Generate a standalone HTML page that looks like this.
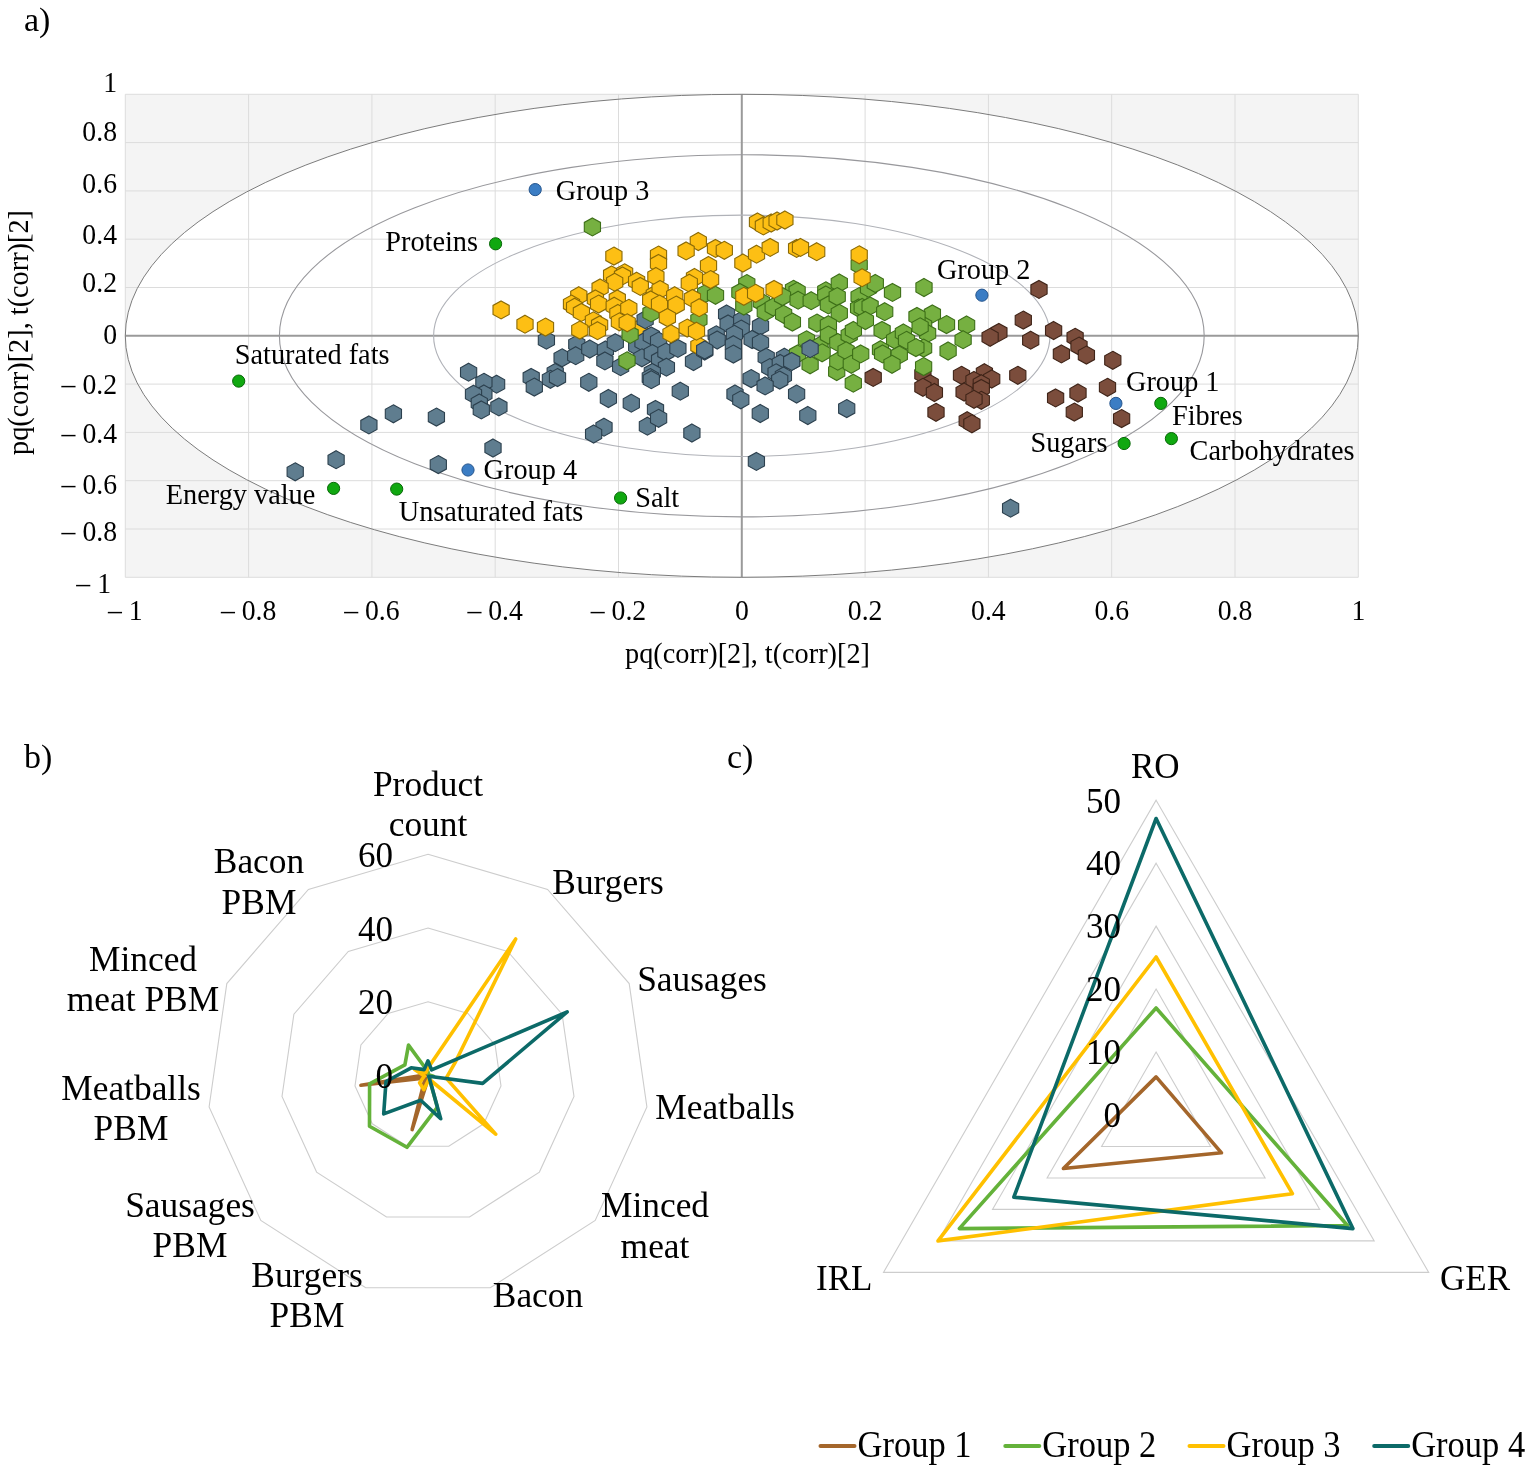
<!DOCTYPE html>
<html lang="en"><head><meta charset="utf-8"><title>Figure</title>
<style>html,body{margin:0;padding:0;background:#fff}body{width:1535px;height:1471px;overflow:hidden}svg{display:block}text{font-family:"Liberation Serif",serif;fill:#000}</style>
</head><body>
<svg width="1535" height="1471" viewBox="0 0 1535 1471">
<rect width="1535" height="1471" fill="#fff"/>
<g id="panel-a">
<rect x="125.3" y="94.3" width="1233.0" height="483.0" fill="#f4f4f4"/>
<ellipse cx="741.8" cy="335.8" rx="616.5" ry="241.5" fill="#fff"/>
<line x1="125.3" y1="94.3" x2="125.3" y2="577.3" stroke="#dcdcdc" stroke-width="1"/>
<line x1="125.3" y1="577.3" x2="1358.3" y2="577.3" stroke="#dcdcdc" stroke-width="1"/>
<line x1="248.6" y1="94.3" x2="248.6" y2="577.3" stroke="#dcdcdc" stroke-width="1"/>
<line x1="125.3" y1="529.0" x2="1358.3" y2="529.0" stroke="#dcdcdc" stroke-width="1"/>
<line x1="371.9" y1="94.3" x2="371.9" y2="577.3" stroke="#dcdcdc" stroke-width="1"/>
<line x1="125.3" y1="480.7" x2="1358.3" y2="480.7" stroke="#dcdcdc" stroke-width="1"/>
<line x1="495.2" y1="94.3" x2="495.2" y2="577.3" stroke="#dcdcdc" stroke-width="1"/>
<line x1="125.3" y1="432.4" x2="1358.3" y2="432.4" stroke="#dcdcdc" stroke-width="1"/>
<line x1="618.5" y1="94.3" x2="618.5" y2="577.3" stroke="#dcdcdc" stroke-width="1"/>
<line x1="125.3" y1="384.1" x2="1358.3" y2="384.1" stroke="#dcdcdc" stroke-width="1"/>
<line x1="865.1" y1="94.3" x2="865.1" y2="577.3" stroke="#dcdcdc" stroke-width="1"/>
<line x1="125.3" y1="287.5" x2="1358.3" y2="287.5" stroke="#dcdcdc" stroke-width="1"/>
<line x1="988.4" y1="94.3" x2="988.4" y2="577.3" stroke="#dcdcdc" stroke-width="1"/>
<line x1="125.3" y1="239.2" x2="1358.3" y2="239.2" stroke="#dcdcdc" stroke-width="1"/>
<line x1="1111.7" y1="94.3" x2="1111.7" y2="577.3" stroke="#dcdcdc" stroke-width="1"/>
<line x1="125.3" y1="190.9" x2="1358.3" y2="190.9" stroke="#dcdcdc" stroke-width="1"/>
<line x1="1235.0" y1="94.3" x2="1235.0" y2="577.3" stroke="#dcdcdc" stroke-width="1"/>
<line x1="125.3" y1="142.6" x2="1358.3" y2="142.6" stroke="#dcdcdc" stroke-width="1"/>
<line x1="1358.3" y1="94.3" x2="1358.3" y2="577.3" stroke="#dcdcdc" stroke-width="1"/>
<line x1="125.3" y1="94.3" x2="1358.3" y2="94.3" stroke="#dcdcdc" stroke-width="1"/>
<line x1="741.8" y1="94.3" x2="741.8" y2="577.3" stroke="#9a9a9a" stroke-width="2"/>
<line x1="125.3" y1="335.8" x2="1358.3" y2="335.8" stroke="#9a9a9a" stroke-width="2"/>
<ellipse cx="741.8" cy="335.8" rx="616.5" ry="241.5" fill="none" stroke="#7c7c7c" stroke-width="1"/>
<ellipse cx="741.8" cy="335.8" rx="462.4" ry="181.1" fill="none" stroke="#98989c" stroke-width="1.1"/>
<ellipse cx="741.8" cy="335.8" rx="308.2" ry="120.7" fill="none" stroke="#b0b2b8" stroke-width="1.1"/>
<g fill="#fdbf14" stroke="#8a6a06" stroke-width="1.1">
<polygon points="639.2,319.6 647.3,324.1 647.3,333.1 639.2,337.6 631.1,333.1 631.1,324.1"/>
</g>
<g fill="#5f7d8f" stroke="#2c404e" stroke-width="1.1">
<polygon points="546.4,331.2 554.5,335.7 554.5,344.7 546.4,349.2 538.3,344.7 538.3,335.7"/>
<polygon points="645.1,310.7 653.2,315.2 653.2,324.2 645.1,328.7 637.0,324.2 637.0,315.2"/>
<polygon points="562.1,348.8 570.2,353.3 570.2,362.3 562.1,366.8 554.0,362.3 554.0,353.3"/>
<polygon points="555.2,363.5 563.3,368.0 563.3,377.0 555.2,381.5 547.1,377.0 547.1,368.0"/>
<polygon points="550.4,370.3 558.5,374.8 558.5,383.8 550.4,388.3 542.3,383.8 542.3,374.8"/>
<polygon points="531.2,368.4 539.3,372.9 539.3,381.9 531.2,386.4 523.1,381.9 523.1,372.9"/>
<polygon points="534.3,378.1 542.4,382.6 542.4,391.6 534.3,396.1 526.2,391.6 526.2,382.6"/>
<polygon points="496.6,375.2 504.7,379.7 504.7,388.7 496.6,393.2 488.5,388.7 488.5,379.7"/>
<polygon points="483.9,373.3 492.0,377.8 492.0,386.8 483.9,391.3 475.8,386.8 475.8,377.8"/>
<polygon points="483.9,385.0 492.0,389.5 492.0,398.5 483.9,403.0 475.8,398.5 475.8,389.5"/>
<polygon points="735.0,385.0 743.1,389.5 743.1,398.5 735.0,403.0 726.9,398.5 726.9,389.5"/>
<polygon points="810.3,339.1 818.4,343.6 818.4,352.6 810.3,357.1 802.2,352.6 802.2,343.6"/>
<polygon points="796.6,385.0 804.7,389.5 804.7,398.5 796.6,403.0 788.5,398.5 788.5,389.5"/>
<polygon points="295.2,462.8 303.3,467.3 303.3,476.3 295.2,480.8 287.1,476.3 287.1,467.3"/>
<polygon points="336.1,450.7 344.2,455.2 344.2,464.2 336.1,468.7 328.0,464.2 328.0,455.2"/>
<polygon points="368.9,415.9 377.0,420.4 377.0,429.4 368.9,433.9 360.8,429.4 360.8,420.4"/>
<polygon points="393.4,404.8 401.5,409.3 401.5,418.3 393.4,422.8 385.3,418.3 385.3,409.3"/>
<polygon points="436.4,408.1 444.5,412.6 444.5,421.6 436.4,426.1 428.3,421.6 428.3,412.6"/>
<polygon points="468.6,363.2 476.7,367.7 476.7,376.7 468.6,381.2 460.5,376.7 460.5,367.7"/>
<polygon points="473.5,385.2 481.6,389.7 481.6,398.7 473.5,403.2 465.4,398.7 465.4,389.7"/>
<polygon points="479.3,394.0 487.4,398.5 487.4,407.5 479.3,412.0 471.2,407.5 471.2,398.5"/>
<polygon points="481.3,400.9 489.4,405.4 489.4,414.4 481.3,418.9 473.2,414.4 473.2,405.4"/>
<polygon points="498.9,397.9 507.0,402.4 507.0,411.4 498.9,415.9 490.8,411.4 490.8,402.4"/>
<polygon points="493.0,439.0 501.1,443.5 501.1,452.5 493.0,457.0 484.9,452.5 484.9,443.5"/>
<polygon points="438.3,455.6 446.4,460.1 446.4,469.1 438.3,473.6 430.2,469.1 430.2,460.1"/>
<polygon points="557.5,368.6 565.6,373.1 565.6,382.1 557.5,386.6 549.4,382.1 549.4,373.1"/>
<polygon points="647.4,417.2 655.5,421.7 655.5,430.7 647.4,435.2 639.3,430.7 639.3,421.7"/>
<polygon points="604.0,418.2 612.1,422.7 612.1,431.7 604.0,436.2 595.9,431.7 595.9,422.7"/>
<polygon points="593.6,425.0 601.7,429.5 601.7,438.5 593.6,443.0 585.5,438.5 585.5,429.5"/>
<polygon points="691.9,424.0 700.0,428.5 700.0,437.5 691.9,442.0 683.8,437.5 683.8,428.5"/>
<polygon points="740.8,390.8 748.9,395.3 748.9,404.3 740.8,408.8 732.7,404.3 732.7,395.3"/>
<polygon points="760.3,404.5 768.4,409.0 768.4,418.0 760.3,422.5 752.2,418.0 752.2,409.0"/>
<polygon points="756.4,452.4 764.5,456.9 764.5,465.9 756.4,470.4 748.3,465.9 748.3,456.9"/>
<polygon points="807.8,406.5 815.9,411.0 815.9,420.0 807.8,424.5 799.7,420.0 799.7,411.0"/>
<polygon points="846.7,399.6 854.8,404.1 854.8,413.1 846.7,417.6 838.6,413.1 838.6,404.1"/>
<polygon points="1010.6,499.2 1018.7,503.7 1018.7,512.7 1010.6,517.2 1002.5,512.7 1002.5,503.7"/>
<polygon points="576.8,335.3 584.9,339.8 584.9,348.8 576.8,353.3 568.7,348.8 568.7,339.8"/>
<polygon points="575.7,346.7 583.8,351.2 583.8,360.2 575.7,364.7 567.6,360.2 567.6,351.2"/>
<polygon points="589.8,340.0 597.9,344.5 597.9,353.5 589.8,358.0 581.7,353.5 581.7,344.5"/>
<polygon points="605.4,341.0 613.5,345.5 613.5,354.5 605.4,359.0 597.3,354.5 597.3,345.5"/>
<polygon points="604.9,351.9 613.0,356.4 613.0,365.4 604.9,369.9 596.8,365.4 596.8,356.4"/>
<polygon points="615.3,333.7 623.4,338.2 623.4,347.2 615.3,351.7 607.2,347.2 607.2,338.2"/>
<polygon points="620.6,357.7 628.7,362.2 628.7,371.2 620.6,375.7 612.5,371.2 612.5,362.2"/>
<polygon points="636.7,337.3 644.8,341.8 644.8,350.8 636.7,355.3 628.6,350.8 628.6,341.8"/>
<polygon points="643.0,333.2 651.1,337.7 651.1,346.7 643.0,351.2 634.9,346.7 634.9,337.7"/>
<polygon points="651.3,326.9 659.4,331.4 659.4,340.4 651.3,344.9 643.2,340.4 643.2,331.4"/>
<polygon points="658.6,332.1 666.7,336.6 666.7,345.6 658.6,350.1 650.5,345.6 650.5,336.6"/>
<polygon points="641.9,348.8 650.0,353.3 650.0,362.3 641.9,366.8 633.8,362.3 633.8,353.3"/>
<polygon points="652.3,344.6 660.4,349.1 660.4,358.1 652.3,362.6 644.2,358.1 644.2,349.1"/>
<polygon points="659.6,350.9 667.7,355.4 667.7,364.4 659.6,368.9 651.5,364.4 651.5,355.4"/>
<polygon points="665.9,343.1 674.0,347.6 674.0,356.6 665.9,361.1 657.8,356.6 657.8,347.6"/>
<polygon points="666.4,358.2 674.5,362.7 674.5,371.7 666.4,376.2 658.3,371.7 658.3,362.7"/>
<polygon points="677.9,339.4 686.0,343.9 686.0,352.9 677.9,357.4 669.8,352.9 669.8,343.9"/>
<polygon points="652.3,363.4 660.4,367.9 660.4,376.9 652.3,381.4 644.2,376.9 644.2,367.9"/>
<polygon points="650.3,368.6 658.4,373.1 658.4,382.1 650.3,386.6 642.2,382.1 642.2,373.1"/>
<polygon points="651.3,370.7 659.4,375.2 659.4,384.2 651.3,388.7 643.2,384.2 643.2,375.2"/>
<polygon points="693.5,352.5 701.6,357.0 701.6,366.0 693.5,370.5 685.4,366.0 685.4,357.0"/>
<polygon points="588.8,373.3 596.9,377.8 596.9,386.8 588.8,391.3 580.7,386.8 580.7,377.8"/>
<polygon points="608.4,389.5 616.5,394.0 616.5,403.0 608.4,407.5 600.3,403.0 600.3,394.0"/>
<polygon points="631.3,394.2 639.4,398.7 639.4,407.7 631.3,412.2 623.2,407.7 623.2,398.7"/>
<polygon points="680.3,382.2 688.4,386.7 688.4,395.7 680.3,400.2 672.2,395.7 672.2,386.7"/>
<polygon points="655.5,400.4 663.6,404.9 663.6,413.9 655.5,418.4 647.4,413.9 647.4,404.9"/>
<polygon points="658.6,409.3 666.7,413.8 666.7,422.8 658.6,427.3 650.5,422.8 650.5,413.8"/>
<polygon points="726.6,305.0 734.7,309.5 734.7,318.5 726.6,323.0 718.5,318.5 718.5,309.5"/>
<polygon points="728.1,314.9 736.2,319.4 736.2,328.4 728.1,332.9 720.0,328.4 720.0,319.4"/>
<polygon points="741.7,311.2 749.8,315.7 749.8,324.7 741.7,329.2 733.6,324.7 733.6,315.7"/>
<polygon points="741.2,320.1 749.3,324.6 749.3,333.6 741.2,338.1 733.1,333.6 733.1,324.6"/>
<polygon points="716.2,325.8 724.3,330.3 724.3,339.3 716.2,343.8 708.1,339.3 708.1,330.3"/>
<polygon points="717.2,331.0 725.3,335.5 725.3,344.5 717.2,349.0 709.1,344.5 709.1,335.5"/>
<polygon points="734.4,325.3 742.5,329.8 742.5,338.8 734.4,343.3 726.3,338.8 726.3,329.8"/>
<polygon points="733.4,335.7 741.5,340.2 741.5,349.2 733.4,353.7 725.3,349.2 725.3,340.2"/>
<polygon points="733.4,345.1 741.5,349.6 741.5,358.6 733.4,363.1 725.3,358.6 725.3,349.6"/>
<polygon points="760.5,316.9 768.6,321.4 768.6,330.4 760.5,334.9 752.4,330.4 752.4,321.4"/>
<polygon points="752.1,330.5 760.2,335.0 760.2,344.0 752.1,348.5 744.0,344.0 744.0,335.0"/>
<polygon points="760.5,333.6 768.6,338.1 768.6,347.1 760.5,351.6 752.4,347.1 752.4,338.1"/>
<polygon points="704.7,342.0 712.8,346.5 712.8,355.5 704.7,360.0 696.6,355.5 696.6,346.5"/>
<polygon points="766.2,348.2 774.3,352.7 774.3,361.7 766.2,366.2 758.1,361.7 758.1,352.7"/>
<polygon points="769.8,358.6 777.9,363.1 777.9,372.1 769.8,376.6 761.7,372.1 761.7,363.1"/>
<polygon points="784.4,348.2 792.5,352.7 792.5,361.7 784.4,366.2 776.3,361.7 776.3,352.7"/>
<polygon points="780.3,354.5 788.4,359.0 788.4,368.0 780.3,372.5 772.2,368.0 772.2,359.0"/>
<polygon points="791.7,352.4 799.8,356.9 799.8,365.9 791.7,370.4 783.6,365.9 783.6,356.9"/>
<polygon points="776.1,363.8 784.2,368.3 784.2,377.3 776.1,381.8 768.0,377.3 768.0,368.3"/>
<polygon points="783.4,367.0 791.5,371.5 791.5,380.5 783.4,385.0 775.3,380.5 775.3,371.5"/>
<polygon points="779.7,371.1 787.8,375.6 787.8,384.6 779.7,389.1 771.6,384.6 771.6,375.6"/>
<polygon points="751.1,369.6 759.2,374.1 759.2,383.1 751.1,387.6 743.0,383.1 743.0,374.1"/>
<polygon points="765.1,376.9 773.2,381.4 773.2,390.4 765.1,394.9 757.0,390.4 757.0,381.4"/>
</g>
<g fill="#7b4d3c" stroke="#3f2418" stroke-width="1.1">
<polygon points="1039.0,280.4 1047.1,284.9 1047.1,293.9 1039.0,298.4 1030.9,293.9 1030.9,284.9"/>
<polygon points="1023.3,311.1 1031.4,315.6 1031.4,324.6 1023.3,329.1 1015.2,324.6 1015.2,315.6"/>
<polygon points="1053.6,321.5 1061.7,326.0 1061.7,335.0 1053.6,339.5 1045.5,335.0 1045.5,326.0"/>
<polygon points="998.9,323.4 1007.0,327.9 1007.0,336.9 998.9,341.4 990.8,336.9 990.8,327.9"/>
<polygon points="990.1,328.3 998.2,332.8 998.2,341.8 990.1,346.3 982.0,341.8 982.0,332.8"/>
<polygon points="1030.7,331.2 1038.8,335.7 1038.8,344.7 1030.7,349.2 1022.6,344.7 1022.6,335.7"/>
<polygon points="1075.1,328.3 1083.2,332.8 1083.2,341.8 1075.1,346.3 1067.0,341.8 1067.0,332.8"/>
<polygon points="1079.0,337.1 1087.1,341.6 1087.1,350.6 1079.0,355.1 1070.9,350.6 1070.9,341.6"/>
<polygon points="1061.4,344.9 1069.5,349.4 1069.5,358.4 1061.4,362.9 1053.3,358.4 1053.3,349.4"/>
<polygon points="873.2,368.4 881.3,372.9 881.3,381.9 873.2,386.4 865.1,381.9 865.1,372.9"/>
<polygon points="1055.6,388.9 1063.7,393.4 1063.7,402.4 1055.6,406.9 1047.5,402.4 1047.5,393.4"/>
<polygon points="1078.0,384.0 1086.1,388.5 1086.1,397.5 1078.0,402.0 1069.9,397.5 1069.9,388.5"/>
<polygon points="1086.4,346.1 1094.5,350.6 1094.5,359.6 1086.4,364.1 1078.3,359.6 1078.3,350.6"/>
<polygon points="1112.8,351.3 1120.9,355.8 1120.9,364.8 1112.8,369.3 1104.7,364.8 1104.7,355.8"/>
<polygon points="1107.5,378.3 1115.6,382.8 1115.6,391.8 1107.5,396.3 1099.4,391.8 1099.4,382.8"/>
<polygon points="1074.3,403.1 1082.4,407.6 1082.4,416.6 1074.3,421.1 1066.2,416.6 1066.2,407.6"/>
<polygon points="1121.6,409.6 1129.7,414.1 1129.7,423.1 1121.6,427.6 1113.5,423.1 1113.5,414.1"/>
<polygon points="922.9,365.3 931.0,369.8 931.0,378.8 922.9,383.3 914.8,378.8 914.8,369.8"/>
<polygon points="930.2,374.7 938.3,379.2 938.3,388.2 930.2,392.7 922.1,388.2 922.1,379.2"/>
<polygon points="922.9,378.3 931.0,382.8 931.0,391.8 922.9,396.3 914.8,391.8 914.8,382.8"/>
<polygon points="934.4,383.5 942.5,388.0 942.5,397.0 934.4,401.5 926.3,397.0 926.3,388.0"/>
<polygon points="936.0,403.3 944.1,407.8 944.1,416.8 936.0,421.3 927.9,416.8 927.9,407.8"/>
<polygon points="961.5,366.3 969.6,370.8 969.6,379.8 961.5,384.3 953.4,379.8 953.4,370.8"/>
<polygon points="984.4,363.7 992.5,368.2 992.5,377.2 984.4,381.7 976.3,377.2 976.3,368.2"/>
<polygon points="991.7,370.0 999.8,374.5 999.8,383.5 991.7,388.0 983.6,383.5 983.6,374.5"/>
<polygon points="974.0,371.5 982.1,376.0 982.1,385.0 974.0,389.5 965.9,385.0 965.9,376.0"/>
<polygon points="981.3,374.7 989.4,379.2 989.4,388.2 981.3,392.7 973.2,388.2 973.2,379.2"/>
<polygon points="964.1,383.0 972.2,387.5 972.2,396.5 964.1,401.0 956.0,396.5 956.0,387.5"/>
<polygon points="981.3,379.4 989.4,383.9 989.4,392.9 981.3,397.4 973.2,392.9 973.2,383.9"/>
<polygon points="981.3,391.3 989.4,395.8 989.4,404.8 981.3,409.3 973.2,404.8 973.2,395.8"/>
<polygon points="974.0,390.3 982.1,394.8 982.1,403.8 974.0,408.3 965.9,403.8 965.9,394.8"/>
<polygon points="1017.8,366.3 1025.9,370.8 1025.9,379.8 1017.8,384.3 1009.7,379.8 1009.7,370.8"/>
<polygon points="967.2,411.7 975.3,416.2 975.3,425.2 967.2,429.7 959.1,425.2 959.1,416.2"/>
<polygon points="971.9,414.8 980.0,419.3 980.0,428.3 971.9,432.8 963.8,428.3 963.8,419.3"/>
</g>
<g fill="#76b041" stroke="#3d6f18" stroke-width="1.1">
<polygon points="592.4,217.9 600.5,222.4 600.5,231.4 592.4,235.9 584.3,231.4 584.3,222.4"/>
<polygon points="705.7,284.3 713.8,288.8 713.8,297.8 705.7,302.3 697.6,297.8 697.6,288.8"/>
<polygon points="715.5,286.3 723.6,290.8 723.6,299.8 715.5,304.3 707.4,299.8 707.4,290.8"/>
<polygon points="651.0,303.9 659.1,308.4 659.1,317.4 651.0,321.9 642.9,317.4 642.9,308.4"/>
<polygon points="698.9,310.7 707.0,315.2 707.0,324.2 698.9,328.7 690.8,324.2 690.8,315.2"/>
<polygon points="630.1,325.4 638.2,329.9 638.2,338.9 630.1,343.4 622.0,338.9 622.0,329.9"/>
<polygon points="627.0,351.8 635.1,356.3 635.1,365.3 627.0,369.8 618.9,365.3 618.9,356.3"/>
<polygon points="746.8,274.6 754.9,279.1 754.9,288.1 746.8,292.6 738.7,288.1 738.7,279.1"/>
<polygon points="739.9,283.4 748.0,287.9 748.0,296.9 739.9,301.4 731.8,296.9 731.8,287.9"/>
<polygon points="743.8,297.0 751.9,301.5 751.9,310.5 743.8,315.0 735.7,310.5 735.7,301.5"/>
<polygon points="761.4,293.1 769.5,297.6 769.5,306.6 761.4,311.1 753.3,306.6 753.3,297.6"/>
<polygon points="765.3,302.9 773.4,307.4 773.4,316.4 765.3,320.9 757.2,316.4 757.2,307.4"/>
<polygon points="773.2,298.0 781.3,302.5 781.3,311.5 773.2,316.0 765.1,311.5 765.1,302.5"/>
<polygon points="859.2,256.0 867.3,260.5 867.3,269.5 859.2,274.0 851.1,269.5 851.1,260.5"/>
<polygon points="924.0,278.5 932.1,283.0 932.1,292.0 924.0,296.5 915.9,292.0 915.9,283.0"/>
<polygon points="932.4,304.9 940.5,309.4 940.5,318.4 932.4,322.9 924.3,318.4 924.3,309.4"/>
<polygon points="923.6,316.6 931.7,321.1 931.7,330.1 923.6,334.6 915.5,330.1 915.5,321.1"/>
<polygon points="927.6,324.4 935.7,328.9 935.7,337.9 927.6,342.4 919.5,337.9 919.5,328.9"/>
<polygon points="946.5,315.6 954.6,320.1 954.6,329.1 946.5,333.6 938.4,329.1 938.4,320.1"/>
<polygon points="966.6,316.0 974.7,320.5 974.7,329.5 966.6,334.0 958.5,329.5 958.5,320.5"/>
<polygon points="963.1,330.7 971.2,335.2 971.2,344.2 963.1,348.7 955.0,344.2 955.0,335.2"/>
<polygon points="948.1,342.0 956.2,346.5 956.2,355.5 948.1,360.0 940.0,355.5 940.0,346.5"/>
<polygon points="836.7,362.5 844.8,367.0 844.8,376.0 836.7,380.5 828.6,376.0 828.6,367.0"/>
<polygon points="853.3,374.2 861.4,378.7 861.4,387.7 853.3,392.2 845.2,387.7 845.2,378.7"/>
<polygon points="923.6,339.1 931.7,343.6 931.7,352.6 923.6,357.1 915.5,352.6 915.5,343.6"/>
<polygon points="923.6,357.6 931.7,362.1 931.7,371.1 923.6,375.6 915.5,371.1 915.5,362.1"/>
<polygon points="793.5,280.3 801.6,284.8 801.6,293.8 793.5,298.3 785.4,293.8 785.4,284.8"/>
<polygon points="797.1,282.3 805.2,286.8 805.2,295.8 797.1,300.3 789.0,295.8 789.0,286.8"/>
<polygon points="782.5,287.6 790.6,292.1 790.6,301.1 782.5,305.6 774.4,301.1 774.4,292.1"/>
<polygon points="798.1,291.2 806.2,295.7 806.2,304.7 798.1,309.2 790.0,304.7 790.0,295.7"/>
<polygon points="811.2,291.7 819.3,296.2 819.3,305.2 811.2,309.7 803.1,305.2 803.1,296.2"/>
<polygon points="825.8,281.8 833.9,286.3 833.9,295.3 825.8,299.8 817.7,295.3 817.7,286.3"/>
<polygon points="825.8,286.0 833.9,290.5 833.9,299.5 825.8,304.0 817.7,299.5 817.7,290.5"/>
<polygon points="828.4,295.9 836.5,300.4 836.5,309.4 828.4,313.9 820.3,309.4 820.3,300.4"/>
<polygon points="839.3,274.0 847.4,278.5 847.4,287.5 839.3,292.0 831.2,287.5 831.2,278.5"/>
<polygon points="837.2,287.6 845.3,292.1 845.3,301.1 837.2,305.6 829.1,301.1 829.1,292.1"/>
<polygon points="839.3,304.2 847.4,308.7 847.4,317.7 839.3,322.2 831.2,317.7 831.2,308.7"/>
<polygon points="783.6,305.3 791.7,309.8 791.7,318.8 783.6,323.3 775.5,318.8 775.5,309.8"/>
<polygon points="792.4,313.1 800.5,317.6 800.5,326.6 792.4,331.1 784.3,326.6 784.3,317.6"/>
<polygon points="816.9,314.1 825.0,318.6 825.0,327.6 816.9,332.1 808.8,327.6 808.8,318.6"/>
<polygon points="828.4,315.7 836.5,320.2 836.5,329.2 828.4,333.7 820.3,329.2 820.3,320.2"/>
<polygon points="806.5,330.8 814.6,335.3 814.6,344.3 806.5,348.8 798.4,344.3 798.4,335.3"/>
<polygon points="797.6,344.9 805.7,349.4 805.7,358.4 797.6,362.9 789.5,358.4 789.5,349.4"/>
<polygon points="810.1,355.8 818.2,360.3 818.2,369.3 810.1,373.8 802.0,369.3 802.0,360.3"/>
<polygon points="820.0,336.5 828.1,341.0 828.1,350.0 820.0,354.5 811.9,350.0 811.9,341.0"/>
<polygon points="822.1,343.8 830.2,348.3 830.2,357.3 822.1,361.8 814.0,357.3 814.0,348.3"/>
<polygon points="828.4,326.1 836.5,330.6 836.5,339.6 828.4,344.1 820.3,339.6 820.3,330.6"/>
<polygon points="837.8,333.4 845.9,337.9 845.9,346.9 837.8,351.4 829.7,346.9 829.7,337.9"/>
<polygon points="837.8,352.2 845.9,356.7 845.9,365.7 837.8,370.2 829.7,365.7 829.7,356.7"/>
<polygon points="849.2,326.1 857.3,330.6 857.3,339.6 849.2,344.1 841.1,339.6 841.1,330.6"/>
<polygon points="853.4,321.4 861.5,325.9 861.5,334.9 853.4,339.4 845.3,334.9 845.3,325.9"/>
<polygon points="846.1,341.8 854.2,346.3 854.2,355.3 846.1,359.8 838.0,355.3 838.0,346.3"/>
<polygon points="851.3,355.3 859.4,359.8 859.4,368.8 851.3,373.3 843.2,368.8 843.2,359.8"/>
<polygon points="860.7,344.9 868.8,349.4 868.8,358.4 860.7,362.9 852.6,358.4 852.6,349.4"/>
<polygon points="859.1,287.6 867.2,292.1 867.2,301.1 859.1,305.6 851.0,301.1 851.0,292.1"/>
<polygon points="868.5,279.2 876.6,283.7 876.6,292.7 868.5,297.2 860.4,292.7 860.4,283.7"/>
<polygon points="875.3,274.5 883.4,279.0 883.4,288.0 875.3,292.5 867.2,288.0 867.2,279.0"/>
<polygon points="858.6,299.0 866.7,303.5 866.7,312.5 858.6,317.0 850.5,312.5 850.5,303.5"/>
<polygon points="862.2,298.5 870.3,303.0 870.3,312.0 862.2,316.5 854.1,312.0 854.1,303.0"/>
<polygon points="870.1,296.9 878.2,301.4 878.2,310.4 870.1,314.9 862.0,310.4 862.0,301.4"/>
<polygon points="865.4,311.5 873.5,316.0 873.5,325.0 865.4,329.5 857.3,325.0 857.3,316.0"/>
<polygon points="884.7,302.7 892.8,307.2 892.8,316.2 884.7,320.7 876.6,316.2 876.6,307.2"/>
<polygon points="892.5,283.4 900.6,287.9 900.6,296.9 892.5,301.4 884.4,296.9 884.4,287.9"/>
<polygon points="882.1,321.4 890.2,325.9 890.2,334.9 882.1,339.4 874.0,334.9 874.0,325.9"/>
<polygon points="894.6,330.8 902.7,335.3 902.7,344.3 894.6,348.8 886.5,344.3 886.5,335.3"/>
<polygon points="903.4,324.0 911.5,328.5 911.5,337.5 903.4,342.0 895.3,337.5 895.3,328.5"/>
<polygon points="906.5,331.3 914.6,335.8 914.6,344.8 906.5,349.3 898.4,344.8 898.4,335.8"/>
<polygon points="880.5,340.7 888.6,345.2 888.6,354.2 880.5,358.7 872.4,354.2 872.4,345.2"/>
<polygon points="882.6,344.9 890.7,349.4 890.7,358.4 882.6,362.9 874.5,358.4 874.5,349.4"/>
<polygon points="899.3,345.9 907.4,350.4 907.4,359.4 899.3,363.9 891.2,359.4 891.2,350.4"/>
<polygon points="892.0,355.3 900.1,359.8 900.1,368.8 892.0,373.3 883.9,368.8 883.9,359.8"/>
<polygon points="915.9,338.6 924.0,343.1 924.0,352.1 915.9,356.6 907.8,352.1 907.8,343.1"/>
<polygon points="917.0,307.4 925.1,311.9 925.1,320.9 917.0,325.4 908.9,320.9 908.9,311.9"/>
<polygon points="920.1,317.8 928.2,322.3 928.2,331.3 920.1,335.8 912.0,331.3 912.0,322.3"/>
</g>
<g fill="#fdbf14" stroke="#8a6a06" stroke-width="1.1">
<polygon points="501.1,300.9 509.2,305.4 509.2,314.4 501.1,318.9 493.0,314.4 493.0,305.4"/>
<polygon points="525.0,315.2 533.1,319.7 533.1,328.7 525.0,333.2 516.9,328.7 516.9,319.7"/>
<polygon points="545.5,318.1 553.6,322.6 553.6,331.6 545.5,336.1 537.4,331.6 537.4,322.6"/>
<polygon points="698.3,232.5 706.4,237.0 706.4,246.0 698.3,250.5 690.2,246.0 690.2,237.0"/>
<polygon points="715.5,239.4 723.6,243.9 723.6,252.9 715.5,257.4 707.4,252.9 707.4,243.9"/>
<polygon points="724.3,241.3 732.4,245.8 732.4,254.8 724.3,259.3 716.2,254.8 716.2,245.8"/>
<polygon points="742.9,254.0 751.0,258.5 751.0,267.5 742.9,272.0 734.8,267.5 734.8,258.5"/>
<polygon points="756.5,245.2 764.6,249.7 764.6,258.7 756.5,263.2 748.4,258.7 748.4,249.7"/>
<polygon points="770.2,238.4 778.3,242.9 778.3,251.9 770.2,256.4 762.1,251.9 762.1,242.9"/>
<polygon points="757.5,213.0 765.6,217.5 765.6,226.5 757.5,231.0 749.4,226.5 749.4,217.5"/>
<polygon points="763.4,216.9 771.5,221.4 771.5,230.4 763.4,234.9 755.3,230.4 755.3,221.4"/>
<polygon points="771.2,214.0 779.3,218.5 779.3,227.5 771.2,232.0 763.1,227.5 763.1,218.5"/>
<polygon points="777.1,212.0 785.2,216.5 785.2,225.5 777.1,230.0 769.0,225.5 769.0,216.5"/>
<polygon points="743.8,287.3 751.9,291.8 751.9,300.8 743.8,305.3 735.7,300.8 735.7,291.8"/>
<polygon points="755.6,284.3 763.7,288.8 763.7,297.8 755.6,302.3 747.5,297.8 747.5,288.8"/>
<polygon points="774.1,280.4 782.2,284.9 782.2,293.9 774.1,298.4 766.0,293.9 766.0,284.9"/>
<polygon points="698.9,337.1 707.0,341.6 707.0,350.6 698.9,355.1 690.8,350.6 690.8,341.6"/>
<polygon points="784.9,211.0 793.0,215.5 793.0,224.5 784.9,229.0 776.8,224.5 776.8,215.5"/>
<polygon points="796.6,239.4 804.7,243.9 804.7,252.9 796.6,257.4 788.5,252.9 788.5,243.9"/>
<polygon points="800.5,238.4 808.6,242.9 808.6,251.9 800.5,256.4 792.4,251.9 792.4,242.9"/>
<polygon points="816.7,242.7 824.8,247.2 824.8,256.2 816.7,260.7 808.6,256.2 808.6,247.2"/>
<polygon points="859.2,245.8 867.3,250.3 867.3,259.3 859.2,263.8 851.1,259.3 851.1,250.3"/>
<polygon points="862.1,268.7 870.2,273.2 870.2,282.2 862.1,286.7 854.0,282.2 854.0,273.2"/>
<polygon points="613.9,247.1 622.0,251.6 622.0,260.6 613.9,265.1 605.8,260.6 605.8,251.6"/>
<polygon points="658.5,246.1 666.6,250.6 666.6,259.6 658.5,264.1 650.4,259.6 650.4,250.6"/>
<polygon points="658.5,254.4 666.6,258.9 666.6,267.9 658.5,272.4 650.4,267.9 650.4,258.9"/>
<polygon points="655.9,267.5 664.0,272.0 664.0,281.0 655.9,285.5 647.8,281.0 647.8,272.0"/>
<polygon points="686.1,241.9 694.2,246.4 694.2,255.4 686.1,259.9 678.0,255.4 678.0,246.4"/>
<polygon points="708.5,256.5 716.6,261.0 716.6,270.0 708.5,274.5 700.4,270.0 700.4,261.0"/>
<polygon points="694.5,268.5 702.6,273.0 702.6,282.0 694.5,286.5 686.4,282.0 686.4,273.0"/>
<polygon points="689.3,274.2 697.4,278.7 697.4,287.7 689.3,292.2 681.2,287.7 681.2,278.7"/>
<polygon points="710.6,270.6 718.7,275.1 718.7,284.1 710.6,288.6 702.5,284.1 702.5,275.1"/>
<polygon points="611.6,265.9 619.7,270.4 619.7,279.4 611.6,283.9 603.5,279.4 603.5,270.4"/>
<polygon points="624.6,263.8 632.7,268.3 632.7,277.3 624.6,281.8 616.5,277.3 616.5,268.3"/>
<polygon points="622.5,266.9 630.6,271.4 630.6,280.4 622.5,284.9 614.4,280.4 614.4,271.4"/>
<polygon points="614.7,273.2 622.8,277.7 622.8,286.7 614.7,291.2 606.6,286.7 606.6,277.7"/>
<polygon points="636.6,272.2 644.7,276.7 644.7,285.7 636.6,290.2 628.5,285.7 628.5,276.7"/>
<polygon points="640.3,277.4 648.4,281.9 648.4,290.9 640.3,295.4 632.2,290.9 632.2,281.9"/>
<polygon points="600.1,278.9 608.2,283.4 608.2,292.4 600.1,296.9 592.0,292.4 592.0,283.4"/>
<polygon points="578.8,286.7 586.9,291.2 586.9,300.2 578.8,304.7 570.7,300.2 570.7,291.2"/>
<polygon points="571.5,295.1 579.6,299.6 579.6,308.6 571.5,313.1 563.4,308.6 563.4,299.6"/>
<polygon points="574.6,298.2 582.7,302.7 582.7,311.7 574.6,316.2 566.5,311.7 566.5,302.7"/>
<polygon points="581.4,303.4 589.5,307.9 589.5,316.9 581.4,321.4 573.3,316.9 573.3,307.9"/>
<polygon points="595.4,289.9 603.5,294.4 603.5,303.4 595.4,307.9 587.3,303.4 587.3,294.4"/>
<polygon points="598.6,295.1 606.7,299.6 606.7,308.6 598.6,313.1 590.5,308.6 590.5,299.6"/>
<polygon points="617.3,289.9 625.4,294.4 625.4,303.4 617.3,307.9 609.2,303.4 609.2,294.4"/>
<polygon points="614.2,297.2 622.3,301.7 622.3,310.7 614.2,315.2 606.1,310.7 606.1,301.7"/>
<polygon points="617.9,304.5 626.0,309.0 626.0,318.0 617.9,322.5 609.8,318.0 609.8,309.0"/>
<polygon points="628.8,299.3 636.9,303.8 636.9,312.8 628.8,317.3 620.7,312.8 620.7,303.8"/>
<polygon points="619.4,312.8 627.5,317.3 627.5,326.3 619.4,330.8 611.3,326.3 611.3,317.3"/>
<polygon points="627.2,313.8 635.3,318.3 635.3,327.3 627.2,331.8 619.1,327.3 619.1,318.3"/>
<polygon points="593.4,311.8 601.5,316.3 601.5,325.3 593.4,329.8 585.3,325.3 585.3,316.3"/>
<polygon points="599.6,315.9 607.7,320.4 607.7,329.4 599.6,333.9 591.5,329.4 591.5,320.4"/>
<polygon points="579.8,321.1 587.9,325.6 587.9,334.6 579.8,339.1 571.7,334.6 571.7,325.6"/>
<polygon points="597.5,321.7 605.6,326.2 605.6,335.2 597.5,339.7 589.4,335.2 589.4,326.2"/>
<polygon points="654.3,285.7 662.4,290.2 662.4,299.2 654.3,303.7 646.2,299.2 646.2,290.2"/>
<polygon points="660.1,280.5 668.2,285.0 668.2,294.0 660.1,298.5 652.0,294.0 652.0,285.0"/>
<polygon points="650.7,290.9 658.8,295.4 658.8,304.4 650.7,308.9 642.6,304.4 642.6,295.4"/>
<polygon points="659.5,295.1 667.6,299.6 667.6,308.6 659.5,313.1 651.4,308.6 651.4,299.6"/>
<polygon points="674.7,286.7 682.8,291.2 682.8,300.2 674.7,304.7 666.6,300.2 666.6,291.2"/>
<polygon points="676.2,296.1 684.3,300.6 684.3,309.6 676.2,314.1 668.1,309.6 668.1,300.6"/>
<polygon points="667.4,308.6 675.5,313.1 675.5,322.1 667.4,326.6 659.3,322.1 659.3,313.1"/>
<polygon points="692.4,289.4 700.5,293.9 700.5,302.9 692.4,307.4 684.3,302.9 684.3,293.9"/>
<polygon points="699.2,298.7 707.3,303.2 707.3,312.2 699.2,316.7 691.1,312.2 691.1,303.2"/>
<polygon points="671.0,324.8 679.1,329.3 679.1,338.3 671.0,342.8 662.9,338.3 662.9,329.3"/>
<polygon points="687.2,319.1 695.3,323.6 695.3,332.6 687.2,337.1 679.1,332.6 679.1,323.6"/>
<polygon points="696.5,322.2 704.6,326.7 704.6,335.7 696.5,340.2 688.4,335.7 688.4,326.7"/>
</g>
<g fill="#5f7d8f" stroke="#2c404e" stroke-width="1.1">
<polygon points="810.1,339.7 818.2,344.2 818.2,353.2 810.1,357.7 802.0,353.2 802.0,344.2"/>
<polygon points="704.7,341.0 712.8,345.5 712.8,354.5 704.7,359.0 696.6,354.5 696.6,345.5"/>
<polygon points="791.7,352.4 799.8,356.9 799.8,365.9 791.7,370.4 783.6,365.9 783.6,356.9"/>
</g>
<circle cx="238.7" cy="381.1" r="6.1" fill="#10a810" stroke="#086808" stroke-width="1"/>
<circle cx="333.6" cy="488.4" r="6.1" fill="#10a810" stroke="#086808" stroke-width="1"/>
<circle cx="396.7" cy="489.1" r="6.1" fill="#10a810" stroke="#086808" stroke-width="1"/>
<circle cx="620.6" cy="498.0" r="6.1" fill="#10a810" stroke="#086808" stroke-width="1"/>
<circle cx="495.6" cy="243.8" r="6.1" fill="#10a810" stroke="#086808" stroke-width="1"/>
<circle cx="1124.1" cy="443.5" r="6.1" fill="#10a810" stroke="#086808" stroke-width="1"/>
<circle cx="1160.8" cy="403.4" r="6.1" fill="#10a810" stroke="#086808" stroke-width="1"/>
<circle cx="1171.4" cy="438.6" r="6.1" fill="#10a810" stroke="#086808" stroke-width="1"/>
<circle cx="535.2" cy="189.6" r="6.1" fill="#3b7dc4" stroke="#24548c" stroke-width="1"/>
<circle cx="981.9" cy="295.2" r="6.1" fill="#3b7dc4" stroke="#24548c" stroke-width="1"/>
<circle cx="1115.9" cy="403.4" r="6.1" fill="#3b7dc4" stroke="#24548c" stroke-width="1"/>
<circle cx="468.0" cy="470.0" r="6.1" fill="#3b7dc4" stroke="#24548c" stroke-width="1"/>
<g font-size="28.3">
<text transform="translate(555.8 200.1) scale(1.0 1.05)">Group 3</text>
<text transform="translate(385.3 251.3) scale(1.0 1.05)">Proteins</text>
<text transform="translate(234.8 364.0) scale(1.0 1.05)">Saturated fats</text>
<text transform="translate(165.8 503.8) scale(1.0 1.05)">Energy value</text>
<text transform="translate(398.7 521.0) scale(1.0 1.05)">Unsaturated fats</text>
<text transform="translate(483.6 479.3) scale(1.0 1.05)">Group 4</text>
<text transform="translate(635.2 507.3) scale(1.0 1.05)">Salt</text>
<text transform="translate(936.9 278.7) scale(1.0 1.05)">Group 2</text>
<text transform="translate(1126.0 391.2) scale(1.0 1.05)">Group 1</text>
<text transform="translate(1172.0 424.5) scale(1.0 1.05)">Fibres</text>
<text transform="translate(1030.5 451.7) scale(1.0 1.05)">Sugars</text>
<text transform="translate(1189.6 459.5) scale(1.0 1.05)">Carbohydrates</text>
</g>
<g font-size="26.9">
<text transform="translate(117.0 92.3) scale(1.03 1.09)" text-anchor="end">1</text>
<text transform="translate(117.0 140.8) scale(1.03 1.09)" text-anchor="end">0.8</text>
<text transform="translate(117.0 192.9) scale(1.03 1.09)" text-anchor="end">0.6</text>
<text transform="translate(117.0 243.7) scale(1.03 1.09)" text-anchor="end">0.4</text>
<text transform="translate(117.0 292.0) scale(1.03 1.09)" text-anchor="end">0.2</text>
<text transform="translate(117.0 344.0) scale(1.03 1.09)" text-anchor="end">0</text>
<text transform="translate(117.0 393.8) scale(1.03 1.09)" text-anchor="end">– 0.2</text>
<text transform="translate(117.0 443.4) scale(1.03 1.09)" text-anchor="end">– 0.4</text>
<text transform="translate(117.0 494.2) scale(1.03 1.09)" text-anchor="end">– 0.6</text>
<text transform="translate(117.0 541.0) scale(1.03 1.09)" text-anchor="end">– 0.8</text>
<text transform="translate(111.0 593.2) scale(1.03 1.09)" text-anchor="end">– 1</text>
<text transform="translate(125.3 619.5) scale(1.03 1.09)" text-anchor="middle">– 1</text>
<text transform="translate(248.6 619.5) scale(1.03 1.09)" text-anchor="middle">– 0.8</text>
<text transform="translate(371.9 619.5) scale(1.03 1.09)" text-anchor="middle">– 0.6</text>
<text transform="translate(495.2 619.5) scale(1.03 1.09)" text-anchor="middle">– 0.4</text>
<text transform="translate(618.5 619.5) scale(1.03 1.09)" text-anchor="middle">– 0.2</text>
<text transform="translate(741.8 619.5) scale(1.03 1.09)" text-anchor="middle">0</text>
<text transform="translate(865.1 619.5) scale(1.03 1.09)" text-anchor="middle">0.2</text>
<text transform="translate(988.4 619.5) scale(1.03 1.09)" text-anchor="middle">0.4</text>
<text transform="translate(1111.7 619.5) scale(1.03 1.09)" text-anchor="middle">0.6</text>
<text transform="translate(1235.0 619.5) scale(1.03 1.09)" text-anchor="middle">0.8</text>
<text transform="translate(1358.3 619.5) scale(1.03 1.09)" text-anchor="middle">1</text>
</g>
<text transform="translate(747.5 662.5) scale(1.0 1.04)" font-size="28.3" text-anchor="middle">pq(corr)[2], t(corr)[2]</text>
<text transform="translate(28.0 332.5) rotate(-90) scale(1.0 1.04)" font-size="28.3" text-anchor="middle">pq(corr)[2], t(corr)[2]</text>
<text x="24" y="31" font-size="34">a)</text>
</g>
<g id="panel-b">
<text x="24" y="768" font-size="34">b)</text>
<polygon points="428.0,1001.8 467.9,1013.5 495.1,1044.9 501.0,1086.0 483.7,1123.8 448.8,1146.2 407.2,1146.2 372.3,1123.8 355.0,1086.0 360.9,1044.9 388.1,1013.5" fill="none" stroke="#cdcdcd" stroke-width="1.1"/>
<polygon points="428.0,928.0 507.7,951.4 562.1,1014.2 574.0,1096.5 539.4,1172.1 469.5,1217.0 386.5,1217.0 316.6,1172.1 282.0,1096.5 293.9,1014.2 348.3,951.4" fill="none" stroke="#cdcdcd" stroke-width="1.1"/>
<polygon points="428.0,854.3 547.6,889.4 629.2,983.6 646.9,1107.0 595.2,1220.4 490.3,1287.7 365.7,1287.7 260.8,1220.4 209.1,1107.0 226.8,983.6 308.4,889.4" fill="none" stroke="#cdcdcd" stroke-width="1.1"/>
<polygon points="428.0,1073.7 428.6,1074.6 429.0,1075.0 429.1,1075.7 428.8,1076.2 428.5,1077.3 412.1,1129.6 425.2,1077.9 360.9,1085.2 426.3,1074.7 427.4,1074.6" fill="none" stroke="#a4662b" stroke-width="3.6" stroke-linejoin="round"/>
<polygon points="428.0,1071.8 428.6,1074.6 429.0,1075.0 433.5,1076.3 428.8,1076.2 437.3,1107.3 406.9,1147.3 369.5,1126.2 369.6,1083.9 404.9,1064.9 408.5,1045.1" fill="none" stroke="#64b23a" stroke-width="3.6" stroke-linejoin="round"/>
<polygon points="428.0,1068.1 515.7,939.0 454.8,1063.2 446.2,1078.1 495.7,1134.2 429.0,1079.0 423.8,1089.6 419.6,1082.7 424.4,1076.0 414.6,1069.4 426.0,1072.4" fill="none" stroke="#ffc000" stroke-width="3.6" stroke-linejoin="round"/>
<polygon points="428.0,1060.8 431.6,1069.9 567.2,1011.9 482.7,1083.4 428.8,1076.2 440.7,1118.7 420.7,1100.3 383.7,1113.9 386.0,1081.5 411.2,1067.8 424.2,1069.6" fill="none" stroke="#0c6a68" stroke-width="3.6" stroke-linejoin="round"/>
<g font-size="35.4" text-anchor="middle">
<text x="428.0" y="795.5">Product</text>
<text x="428.0" y="835.8">count</text>
<text x="608.0" y="893.5">Burgers</text>
<text x="702.0" y="991.0">Sausages</text>
<text x="725.0" y="1119.0">Meatballs</text>
<text x="655.0" y="1217.0">Minced</text>
<text x="655.0" y="1258.0">meat</text>
<text x="538.0" y="1307.0">Bacon</text>
<text x="307.0" y="1286.5">Burgers</text>
<text x="307.0" y="1327.0">PBM</text>
<text x="190.0" y="1216.7">Sausages</text>
<text x="190.0" y="1257.0">PBM</text>
<text x="131.0" y="1100.0">Meatballs</text>
<text x="131.0" y="1140.0">PBM</text>
<text x="143.0" y="971.0">Minced</text>
<text x="143.0" y="1011.0">meat PBM</text>
<text x="259.0" y="872.7">Bacon</text>
<text x="259.0" y="914.0">PBM</text>
</g>
<g font-size="35" text-anchor="end">
<text x="393" y="867">60</text>
<text x="393" y="941">40</text>
<text x="393" y="1014">20</text>
<text x="393" y="1088">0</text>
</g>
</g>
<g id="panel-c">
<text x="727" y="768" font-size="34">c)</text>
<polygon points="1156.1,1052.0 1210.6,1146.5 1101.6,1146.5" fill="none" stroke="#cdcdcd" stroke-width="1.1"/>
<polygon points="1156.1,989.1 1265.1,1178.0 1047.1,1178.0" fill="none" stroke="#cdcdcd" stroke-width="1.1"/>
<polygon points="1156.1,926.1 1319.7,1209.4 992.5,1209.4" fill="none" stroke="#cdcdcd" stroke-width="1.1"/>
<polygon points="1156.1,863.2 1374.2,1240.9 938.0,1240.9" fill="none" stroke="#cdcdcd" stroke-width="1.1"/>
<polygon points="1156.1,800.2 1428.7,1272.4 883.5,1272.4" fill="none" stroke="#cdcdcd" stroke-width="1.1"/>
<polygon points="1156.1,1076.9 1221.5,1152.8 1063.4,1168.5" fill="none" stroke="#a4662b" stroke-width="3.6" stroke-linejoin="round"/>
<polygon points="1156.1,1008.0 1347.5,1225.5 959.3,1228.6" fill="none" stroke="#64b23a" stroke-width="3.6" stroke-linejoin="round"/>
<polygon points="1156.1,957.0 1292.4,1193.7 938.0,1240.9" fill="none" stroke="#ffc000" stroke-width="3.6" stroke-linejoin="round"/>
<polygon points="1156.1,818.5 1352.9,1228.6 1013.8,1197.2" fill="none" stroke="#0c6a68" stroke-width="3.6" stroke-linejoin="round"/>
<g font-size="35" text-anchor="end">
<text x="1121" y="1126.7">0</text>
<text x="1121" y="1063.9">10</text>
<text x="1121" y="1001.0">20</text>
<text x="1121" y="938.2">30</text>
<text x="1121" y="875.3">40</text>
<text x="1121" y="812.5">50</text>
</g>
<g font-size="35">
<text x="1131" y="778">RO</text>
<text x="816" y="1289.6">IRL</text>
<text x="1440" y="1290">GER</text>
</g>
</g>
<g id="legend" font-size="34.5">
<line x1="820.5" y1="1446" x2="854.5" y2="1446" stroke="#a4662b" stroke-width="4" stroke-linecap="round"/>
<text transform="translate(857.5 1456.6) scale(1.0 1.09)">Group 1</text>
<line x1="1005.3" y1="1446" x2="1039.3" y2="1446" stroke="#64b23a" stroke-width="4" stroke-linecap="round"/>
<text transform="translate(1042.3 1456.6) scale(1.0 1.09)">Group 2</text>
<line x1="1189.5" y1="1446" x2="1223.5" y2="1446" stroke="#ffc000" stroke-width="4" stroke-linecap="round"/>
<text transform="translate(1226.5 1456.6) scale(1.0 1.09)">Group 3</text>
<line x1="1374.2" y1="1446" x2="1408.2" y2="1446" stroke="#0c6a68" stroke-width="4" stroke-linecap="round"/>
<text transform="translate(1411.2 1456.6) scale(1.0 1.09)">Group 4</text>
</g>
</svg></body></html>
